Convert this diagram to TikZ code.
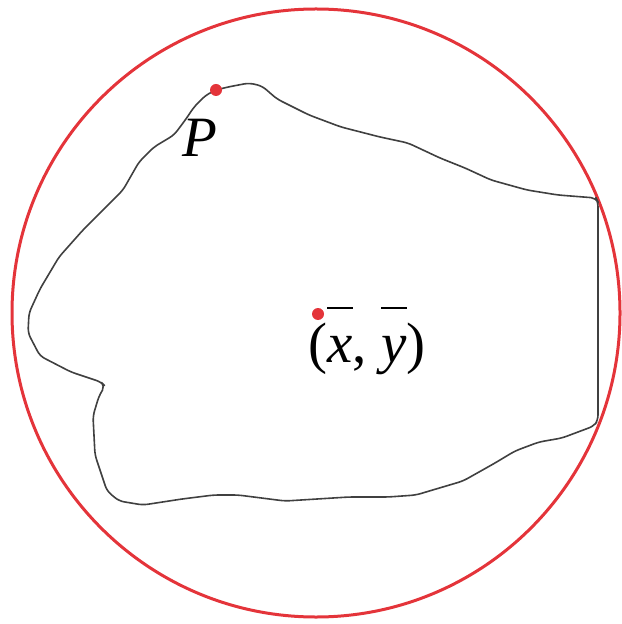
\documentclass[tikz,border=0pt]{standalone}
\usepackage{fontspec}
\setmainfont{Liberation Serif}
\usetikzlibrary{positioning}
\definecolor{ptred}{RGB}{228,52,58}
\definecolor{rimgray}{RGB}{64,64,64}
\newcommand{\barit}[1]{\leavevmode\vbox{\hrule height 1.1pt\kern 0.47em\hbox{\textit{#1}}}}

\begin{document}
\begin{tikzpicture}[x=0.5pt, y=-0.5pt,
  dot/.style={circle, fill=ptred, inner sep=0pt, minimum size=6pt},
  lbl/.style={font=\fontsize{28.5}{32}\selectfont, inner sep=0pt, anchor=base},
  rim/.style={draw=rimgray, line width=0.8pt, line join=round, rounded corners=2.5pt},
  ring/.style={draw=ptred, line width=1.5pt}]

  \useasboundingbox (0,0) rectangle (621,624);

  %enclosing circle
  \draw[ring] (316,313) circle[radius=152pt];

  %outline of the region
  \draw[rim] (216,90) -- (228,87) -- (249,83) -- (262,86) -- (277,99)
     -- (309,115) -- (341,127) -- (380,137) -- (408,143) -- (440,158)
     -- (465,168) -- (491,180) -- (527,190) -- (558,195) -- (596,198)
     -- (598,202) -- (598,420) -- (594,426) -- (562,438) -- (539,442)
     -- (515,451) -- (495,463) -- (463,481) -- (436,489) -- (416,495)
     -- (388,497) -- (349,497) -- (285,501) -- (238,495) -- (214,495)
     -- (182,499) -- (143,505) -- (119,501) -- (107,491) -- (100,470)
     -- (95,455) -- (93,416) -- (99,396) -- (105,386) -- (101,382)
     -- (71,372) -- (40,356) -- (28,333) -- (29,313) -- (40,289)
     -- (59,257) -- (83,230) -- (107,206) -- (123,190) -- (139,162)
     -- (154,147) -- (174,135) -- (186,119) -- (194,107) -- (206,95)
     -- cycle;

  %points
  \node[dot] (P) at (216,90) {};
  \node[dot] (G) at (318,314) {};

  %labels
  \node[lbl] (Plbl) at (200,157) {\textit{P}};
  \node[lbl] (Glbl) at (367,362) {(\barit{x}, \barit{y})};
\end{tikzpicture}
\end{document}
